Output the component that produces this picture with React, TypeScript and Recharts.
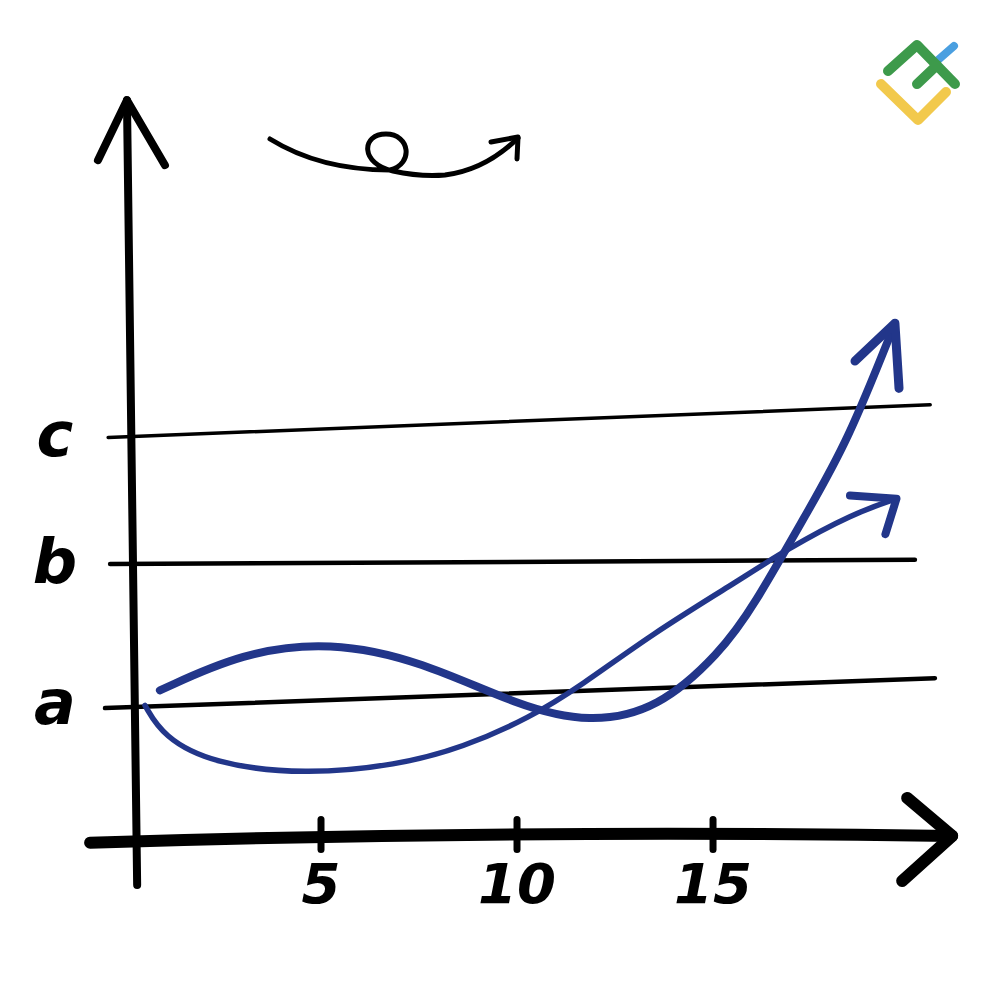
import React from "react";
import { LineChart, Line, XAxis, YAxis, ReferenceLine } from "recharts";

// hand-drawn sketch: two curves over three levels a, b, c
const X_TICKS = [5, 10, 15];
const LEVELS = [1, 2.04, 2.97];
const LEVEL_LABELS = ["a", "b", "c"];

// the level lines are drawn slightly slanted
const LEVEL_X_FROM = [-0.51, -0.38, -0.43];
const LEVEL_X_TO = [20.66, 20.15, 20.54];
const LEVEL_Y_FROM = [0.97, 2.03, 2.96];
const LEVEL_Y_TO = [1.19, 2.06, 3.2];

// thick wavy curve (peak near 5, dip near 12, then steep rise)
const WAVE_X = [0.89, 3.0, 5.23, 7.53, 10.08, 11.86, 13.6, 15.18, 16.02, 17.4, 18.42, 19.64];
const WAVE_Y = [1.1, 1.38, 1.46, 1.32, 0.98, 0.86, 0.96, 1.375, 1.71, 2.41, 2.92, 3.8];

// thinner curve (dip near 5, steady rise)
const RISE_X = [0.51, 0.97, 2.24, 4.6, 6.94, 8.62, 10.33, 11.61, 13.47, 15.5, 16.89, 18.57, 19.68];
const RISE_Y = [0.99, 0.76, 0.56, 0.48, 0.55, 0.68, 0.9, 1.13, 1.52, 1.88, 2.14, 2.4, 2.51];

const waveData = WAVE_X.map((x, i) => ({ x, y: WAVE_Y[i] }));
const riseData = RISE_X.map((x, i) => ({ x, y: RISE_Y[i] }));

const BLUE = "#22368a";
const INK = "#000";
const HAND_FONT = "'DejaVu Sans', sans-serif";

// line with an open chevron at its second point
const arrowLine = (wingA: number[], wingB: number[], bow: number) => (p: any) => {
    const { x1, y1, x2, y2 } = p;
    const mx = (x1 + x2) / 2;
    const my = (y1 + y2) / 2 - bow;
    return (
        <g>
            <path
                d={`M${x1},${y1} Q${mx},${my} ${x2},${y2}`}
                stroke={INK}
                strokeWidth={p.strokeWidth}
                fill="none"
                strokeLinecap="round"
            />
            <path
                d={`M${x2 + wingA[0]},${y2 + wingA[1]} L${x2},${y2} L${x2 + wingB[0]},${y2 + wingB[1]}`}
                stroke={INK}
                strokeWidth={p.strokeWidth}
                fill="none"
                strokeLinecap="round"
                strokeLinejoin="round"
            />
        </g>
    );
};

const YTick = ({ x, y, index }: any) => (
    <text
        x={x - 62}
        y={y}
        dy={20}
        textAnchor="middle"
        fontSize={62}
        fontFamily={HAND_FONT}
        fontWeight={700}
        fontStyle="italic"
        fill={INK}
    >
        {LEVEL_LABELS[index]}
    </text>
);

const XTick = ({ x, y, payload }: any) => (
    <text
        x={x}
        y={y}
        dy={55}
        textAnchor="middle"
        fontSize={56}
        fontFamily={HAND_FONT}
        fontWeight={700}
        fontStyle="italic"
        fill={INK}
    >
        {payload.value}
    </text>
);

const Markers = () => (
    <svg width={0} height={0} style={{ position: "absolute" }}>
        <defs>
            <marker
                id="arrowWave"
                markerUnits="userSpaceOnUse"
                orient="auto"
                viewBox="-80 -80 160 160"
                markerWidth={160}
                markerHeight={160}
                refX={0}
                refY={0}
                overflow="visible"
            >
                <path d="M-50,-23 L0,0 L-59,28" stroke={BLUE} strokeWidth={9} fill="none" strokeLinecap="round" strokeLinejoin="round" />
            </marker>
            <marker
                id="arrowRise"
                markerUnits="userSpaceOnUse"
                orient="auto"
                viewBox="-80 -80 160 160"
                markerWidth={160}
                markerHeight={160}
                refX={0}
                refY={0}
                overflow="visible"
            >
                <path d="M-43,-18 L0,0 L-22,30" stroke={BLUE} strokeWidth={8} fill="none" strokeLinecap="round" strokeLinejoin="round" />
            </marker>
        </defs>
    </svg>
);

// looping arrow doodle and the corner logo
const Decor = () => (
    <svg width={1000} height={1000} style={{ position: "absolute", left: 0, top: 0, pointerEvents: "none" }}>
        <path
            d="M270,139 Q320,170 390,170 C414,164 410,134 386,134 C361,134 360,164 393,171 Q420,177 445,175 Q485,170 518,138"
            stroke={INK}
            strokeWidth={5}
            fill="none"
            strokeLinecap="round"
        />
        <path d="M491,142 L518,137 L517,159" stroke={INK} strokeWidth={5} fill="none" strokeLinecap="round" strokeLinejoin="round" />
        <path d="M881,84 L918,120 L946,92" stroke="#f2c94c" strokeWidth={10} fill="none" strokeLinecap="round" strokeLinejoin="round" />
        <path d="M938,60 L954,46" stroke="#4a9fe0" strokeWidth={8} fill="none" strokeLinecap="round" />
        <path d="M888,71 L917,45 L955,84 M917,84 L937,65" stroke="#3d9a4b" strokeWidth={10} fill="none" strokeLinecap="round" strokeLinejoin="round" />
    </svg>
);

export default function App() {
    return (
        <div style={{ position: "absolute", left: 0, top: 0, width: 1000, height: 1000, background: "#fff" }}>
            <Markers />
            <LineChart width={1000} height={1000} margin={{ top: 92, right: 40, bottom: 0, left: 0 }}>
                <XAxis
                    dataKey="x"
                    type="number"
                    domain={[0, 21.3]}
                    allowDataOverflow
                    ticks={X_TICKS}
                    axisLine={false}
                    tickLine={false}
                    tick={<XTick />}
                    height={160}
                />
                <YAxis
                    type="number"
                    domain={[0, 5.5]}
                    allowDataOverflow
                    ticks={LEVELS}
                    axisLine={false}
                    tickLine={false}
                    tick={<YTick />}
                    width={125}
                />

                {LEVELS.map((lv, i) => (
                    <ReferenceLine
                        key={`lv-${lv}`}
                        segment={[
                            { x: LEVEL_X_FROM[i], y: LEVEL_Y_FROM[i] },
                            { x: LEVEL_X_TO[i], y: LEVEL_Y_TO[i] }
                        ]}
                        ifOverflow="visible"
                        stroke={INK}
                        strokeWidth={i === 2 ? 3.5 : 4.5}
                        strokeLinecap="round"
                    />
                ))}

                {/* y axis with arrow on top */}
                <ReferenceLine
                    segment={[{ x: 0.31, y: -0.33 }, { x: 0.05, y: 5.44 }]}
                    ifOverflow="visible"
                    strokeWidth={8}
                    shape={arrowLine([-29, 60], [38, 65], 0)}
                />
                {/* x axis with arrow on the right */}
                <ReferenceLine
                    segment={[{ x: -0.89, y: -0.02 }, { x: 21.1, y: 0.03 }]}
                    ifOverflow="visible"
                    strokeWidth={12}
                    shape={arrowLine([-45, -38], [-50, 45], 10)}
                />
                {X_TICKS.map((t) => (
                    <ReferenceLine
                        key={`xt-${t}`}
                        segment={[{ x: t, y: -0.07 }, { x: t, y: 0.15 }]}
                        ifOverflow="visible"
                        stroke={INK}
                        strokeWidth={7}
                        strokeLinecap="round"
                    />
                ))}

                <Line
                    data={riseData}
                    dataKey="y"
                    type="basis"
                    stroke={BLUE}
                    strokeWidth={5.5}
                    strokeLinecap="round"
                    dot={false}
                    activeDot={false}
                    markerEnd="url(#arrowRise)"
                    isAnimationActive={false}
                />
                <Line
                    data={waveData}
                    dataKey="y"
                    type="basis"
                    stroke={BLUE}
                    strokeWidth={8}
                    strokeLinecap="round"
                    dot={false}
                    activeDot={false}
                    markerEnd="url(#arrowWave)"
                    isAnimationActive={false}
                />
            </LineChart>
            <Decor />
        </div>
    );
}
